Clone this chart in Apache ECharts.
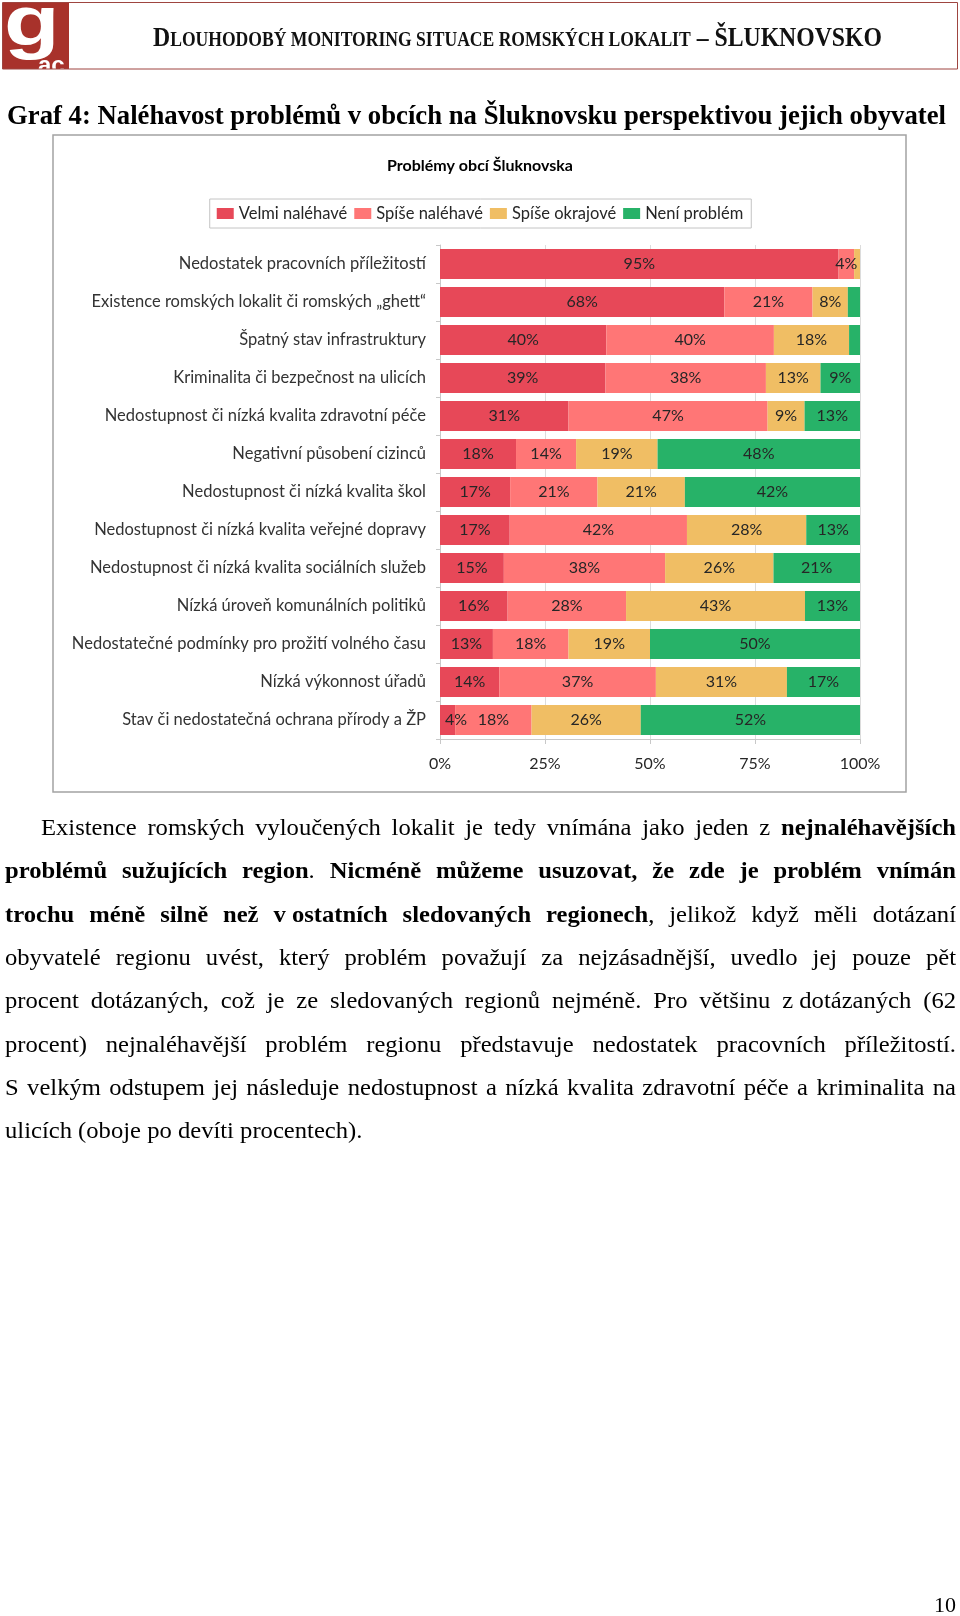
<!DOCTYPE html>
<html><head><meta charset="utf-8">
<script src="https://cdn.jsdelivr.net/npm/echarts@6/dist/echarts.min.js"></script>
<style>html,body{margin:0;padding:0;background:#fff}#c{width:960px;height:1616px}</style>
</head><body><div id="c"></div>
<script>
// ---- chart data ----
const categories = [
  "Nedostatek pracovních příležitostí",
  "Existence romských lokalit či romských „ghett“",
  "Špatný stav infrastruktury",
  "Kriminalita či bezpečnost na ulicích",
  "Nedostupnost či nízká kvalita zdravotní péče",
  "Negativní působení cizinců",
  "Nedostupnost či nízká kvalita škol",
  "Nedostupnost či nízká kvalita veřejné dopravy",
  "Nedostupnost či nízká kvalita sociálních služeb",
  "Nízká úroveň komunálních politiků",
  "Nedostatečné podmínky pro prožití volného času",
  "Nízká výkonnost úřadů",
  "Stav či nedostatečná ochrana přírody a ŽP"
];
const seriesNames = ["Velmi naléhavé", "Spíše naléhavé", "Spíše okrajové", "Není problém"];
const velmiNalehave = [94.9, 67.7, 39.6, 39.4, 30.6, 18.1, 16.7, 16.6, 15.2, 16.1, 12.6, 14.1, 3.6];
const spiseNalehave = [3.7, 21.0, 39.9, 38.2, 47.4, 14.3, 20.8, 42.2, 38.4, 28.2, 18.0, 37.3, 18.2];
const spiseOkrajove = [1.4, 8.4, 17.9, 13.0, 8.8, 19.4, 20.8, 28.4, 25.8, 42.6, 19.4, 31.2, 26.0];
const neniProblem   = [0, 2.9, 2.6, 9.4, 13.2, 48.2, 41.7, 12.8, 20.6, 13.1, 50.0, 17.4, 52.2];
const axisMin = 0, axisMax = 100, axisInterval = 25; // tick labels 0%,25%,50%,75%,100%

const chartTitle = "Problémy obcí Šluknovska";
const pageTitle = "Graf 4: Naléhavost problémů v obcích na Šluknovsku perspektivou jejich obyvatel";
const headerRuns = [["D", 27], ["LOUHODOBÝ MONITORING SITUACE ROMSKÝCH LOKALIT", 20], [" – ŠLUKNOVSKO", 27]];
const bodyLines = [
  "Existence romských vyloučených lokalit je tedy vnímána jako jeden z **nejnaléhavějších**",
  "**problémů sužujících region**. **Nicméně můžeme usuzovat, že zde je problém vnímán**",
  "**trochu méně silně než v\u00a0ostatních sledovaných regionech**, jelikož když měli dotázaní",
  "obyvatelé regionu uvést, který problém považují za nejzásadnější, uvedlo jej pouze pět",
  "procent dotázaných, což je ze sledovaných regionů nejméně. Pro většinu z\u00a0dotázaných (62",
  "procent) nejnaléhavější problém regionu představuje nedostatek pracovních příležitostí.",
  "S velkým odstupem jej následuje nedostupnost a nízká kvalita zdravotní péče a kriminalita na",
  "ulicích (oboje po devíti procentech)."
];
const pageNumber = "10";

// ---- rendering ----
const colors = ['#E74858', '#FF7676', '#F0BE64', '#27B268'];
const SERIF = '"Liberation Serif", "Times New Roman", serif';
const SANS = 'Lato, "Open Sans", sans-serif';
const MID = 0.215;
const GRID_LEFT = 440;
const mctx = document.createElement('canvas').getContext('2d');
function tw(t, font) { mctx.font = font; return mctx.measureText(t).width; }
function serifFont(size, bold) { return (bold ? 'bold ' : '') + size + 'px ' + SERIF; }

const graphics = [];
// chart frame
graphics.push({type:'rect', z:-10, shape:{x:53, y:135, width:853, height:657}, style:{fill:'none', stroke:'#a3a3a3', lineWidth:1.5}});
// header logo
graphics.push({type:'rect', z:1, shape:{x:3, y:2, width:66, height:67}, style:{fill:'#A8322B'}});
graphics.push({type:'text', z:2, x:4, y:41 - MID*70, scaleX:1.3, style:{text:'g', font:'bold 70px "Liberation Sans", Arial, sans-serif', fill:'#fff', verticalAlign:'middle'}});
graphics.push({type:'text', z:2, x:38, y:72 - MID*24, style:{text:'ac', font:'bold 24px "Liberation Sans", Arial, sans-serif', fill:'#fff', verticalAlign:'middle'}});
graphics.push({type:'rect', z:3, shape:{x:0, y:69.5, width:80, height:10}, style:{fill:'#fff'}});
graphics.push({type:'rect', z:4, shape:{x:2.5, y:2.5, width:955, height:66.5}, style:{fill:'none', stroke:'#9e4540', lineWidth:1}});

// header text (small caps), fitted to width
(function(){
  let x = 0; const kids = [];
  headerRuns.forEach(([t, s]) => {
    const f = serifFont(s, true);
    kids.push({type:'text', x:x, y:-MID*s, style:{text:t, font:f, fill:'#111', verticalAlign:'middle'}});
    x += tw(t, f);
  });
  graphics.push({type:'group', x:153, y:45, scaleX:729 / x, children:kids});
})();
// page title
(function(){
  const f = serifFont(27, true);
  const w = tw(pageTitle, f);
  graphics.push({type:'group', x:7, y:122.5, scaleX:939 / w, children:[
    {type:'text', x:0, y:-MID*27, style:{text:pageTitle, font:f, fill:'#000', verticalAlign:'middle'}}]});
})();
// body paragraph, justified
(function(){
  const size = 23, sx = 1.07, right = 956, lineH = 43.3, base0 = 834;
  bodyLines.forEach((line, li) => {
    let bold = false; const words = []; let cur = []; let buf = '';
    const flush = () => { if (buf) { cur.push({t:buf, b:bold}); buf = ''; } };
    for (let i = 0; i < line.length; i++) {
      if (line[i] === '*' && line[i+1] === '*') { flush(); bold = !bold; i++; continue; }
      if (line[i] === ' ') { flush(); if (cur.length) words.push(cur); cur = []; continue; }
      buf += line[i];
    }
    flush(); if (cur.length) words.push(cur);
    const left = li === 0 ? 41 : 5;
    const widths = words.map(w => w.reduce((a, r) => a + sx * tw(r.t, serifFont(size, r.b)), 0));
    const sum = widths.reduce((a, b) => a + b, 0);
    const last = li === bodyLines.length - 1;
    const gap = last ? sx * tw(' ', serifFont(size, false)) : (right - left - sum) / (words.length - 1);
    let x = left; const y = base0 + li * lineH - MID * size;
    words.forEach((w, wi) => {
      let xx = x;
      w.forEach(r => {
        const f = serifFont(size, r.b);
        graphics.push({type:'text', x:xx, y:y, scaleX:sx, style:{text:r.t, font:f, fill:'#000', verticalAlign:'middle'}});
        xx += sx * tw(r.t, f);
      });
      x += widths[wi] + gap;
    });
  });
  graphics.push({type:'text', x:956, y:1611 - MID*22, style:{text:pageNumber, font:serifFont(22, false), fill:'#000', verticalAlign:'middle', align:'right'}});
})();

const seriesData = [velmiNalehave, spiseNalehave, spiseOkrajove, neniProblem];
const chart = echarts.init(document.getElementById('c'), null, {renderer:'canvas', width:960, height:1616});
chart.setOption({
  animation:false,
  backgroundColor:'#fff',
  color:colors,
  title:{text:chartTitle, left:'center', top:153, textStyle:{fontFamily:SANS, fontSize:16, fontWeight:'bold', color:'#000'}},
  legend:{top:199, left:'center', itemWidth:17, itemHeight:11, itemGap:7, icon:'rect',
    padding:[6,8,6,7], borderColor:'#c4c4c4', borderWidth:1,
    textStyle:{fontFamily:SANS, fontSize:16.5, color:'#262626'}, data:seriesNames},
  grid:{left:GRID_LEFT, right:100, top:245, bottom:877, containLabel:false},
  xAxis:{type:'value', min:axisMin, max:axisMax, interval:axisInterval,
    axisLine:{show:true, lineStyle:{color:'#c8c8c8'}},
    axisTick:{show:true, length:5, lineStyle:{color:'#c8c8c8'}},
    splitLine:{show:true, lineStyle:{color:'#dcdcdc'}},
    axisLabel:{formatter:'{value}%', margin:17, fontFamily:SANS, fontSize:16, color:'#262626'}},
  yAxis:{type:'category', inverse:true, data:categories,
    axisLine:{show:true, lineStyle:{color:'#c8c8c8'}},
    axisTick:{show:true, length:4, lineStyle:{color:'#c8c8c8'}},
    axisLabel:{margin:14, fontFamily:SANS, fontSize:16.5, color:'#333'}},
  series:seriesNames.map((n, i) => ({
    name:n, type:'bar', stack:'total', barWidth:30, data:seriesData[i],
    label:{show:true, position:'inside', fontFamily:SANS, fontSize:16, color:'#262626',
      formatter:p => p.value >= 3 ? Math.round(p.value) + '%' : ''},
    labelLayout:p => {
      const r = p.labelRect;
      if (r && r.width > 0 && r.x < GRID_LEFT + 2) return {dx: GRID_LEFT + 5 - r.x};
      return {};
    }
  })),
  graphic:graphics
});
</script></body></html>
